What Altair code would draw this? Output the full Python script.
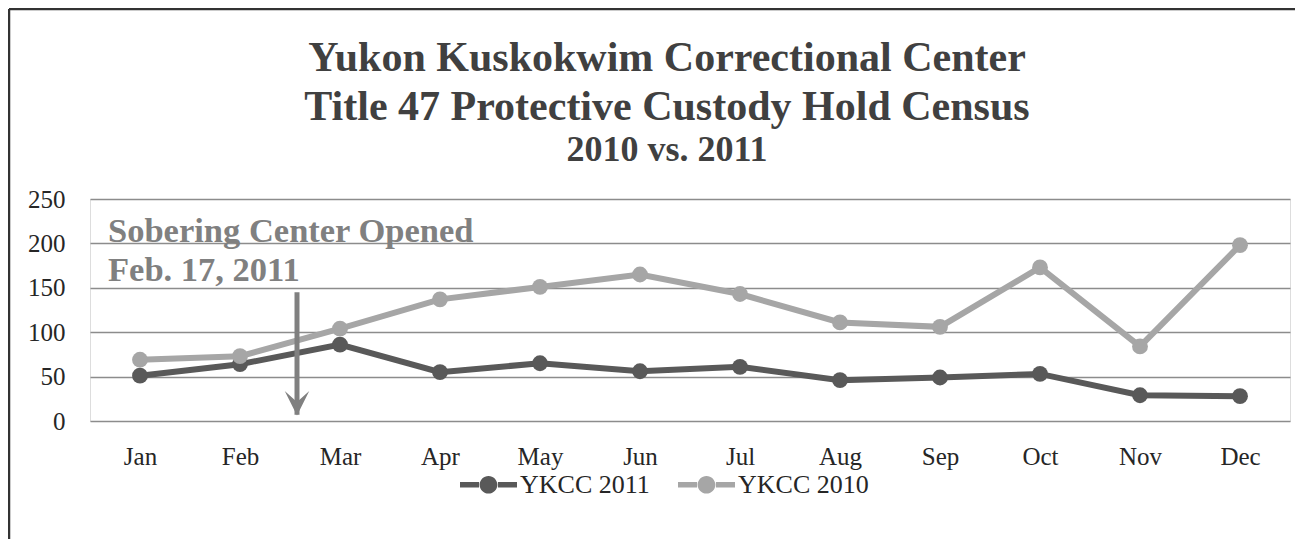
import json
import altair as alt
import pandas as pd

# ---- data ----
months = ["Jan", "Feb", "Mar", "Apr", "May", "Jun", "Jul", "Aug", "Sep", "Oct", "Nov", "Dec"]
ykcc_2011 = [51, 64, 86, 55, 65, 56, 61, 46, 49, 53, 29, 28]
ykcc_2010 = [69, 73, 104, 137, 151, 165, 143, 111, 106, 173, 84, 198]
series_names = ["YKCC 2011", "YKCC 2010"]
series_colors = ["#595959", "#a6a6a6"]
y_ticks = [0, 50, 100, 150, 200, 250]

# annotation (in data units: month index, census value)
note_lines = ["Sobering Center Opened", "Feb. 17, 2011"]
note_x = [0.68, 0.68]
note_y = [202, 158]
arrow_x = [2.57]          # Feb 17
arrow_top = [145]
arrow_bottom = [7]
arrow_head_y = [20]

FONT = "Liberation Serif"

rows = []
for name, vals in zip(series_names, [ykcc_2011, ykcc_2010]):
    for i, v in enumerate(vals):
        rows.append({"m": i + 1, "v": v, "series": name})
df = pd.DataFrame(rows)

note_df = pd.DataFrame({"x": note_x, "y": note_y, "t": note_lines})
arrow_df = pd.DataFrame({"x": arrow_x, "y": arrow_top, "y2": arrow_bottom, "yh": arrow_head_y})

label_expr = json.dumps(months) + "[datum.value - 1]"

x_enc = alt.X(
    "m:Q",
    scale=alt.Scale(domain=[0.5, 12.5], nice=False, zero=False),
    axis=alt.Axis(
        values=list(range(1, 13)), labelExpr=label_expr, grid=False, domain=False,
        ticks=False, title=None, labelFont=FONT, labelFontSize=25, labelColor="#262626",
        labelPadding=23, labelFlush=False,
    ),
)
y_enc = alt.Y(
    "v:Q",
    scale=alt.Scale(domain=[0, 250], nice=False),
    axis=alt.Axis(
        values=y_ticks, grid=True, gridColor="#8c8c8c", gridWidth=1.5, domain=False,
        ticks=False, title=None, labelFont=FONT, labelFontSize=25, labelColor="#262626",
        labelPadding=25,
    ),
)

color_scale = alt.Scale(domain=series_names, range=series_colors)

legend_symbol = (
    "M-1,-0.1 L-0.33,-0.1 L-0.33,0.1 L-1,0.1 Z "
    "M0.33,-0.1 L1,-0.1 L1,0.1 L0.33,0.1 Z "
    "M-0.31,0 A0.31,0.31 0 1,0 0.31,0 A0.31,0.31 0 1,0 -0.31,0 Z"
)

frame_src = pd.DataFrame({"a": [0]})
frame_top = alt.Chart(frame_src).mark_rule(color="#333333", strokeWidth=2.5).encode(
    x=alt.value(-81), x2=alt.value(1210), y=alt.value(-190)
)
frame_left = alt.Chart(frame_src).mark_rule(color="#333333", strokeWidth=2.5).encode(
    x=alt.value(-81), y=alt.value(-190), y2=alt.value(340)
)

line_layers = []
for name, col in zip(series_names, series_colors):
    line_layers.append(
        alt.Chart(df).transform_filter(alt.datum.series == name)
        .mark_line(strokeWidth=6, color=col)
        .encode(x=x_enc, y=y_enc)
    )

points = alt.Chart(df).mark_point(filled=True, size=250, opacity=1).encode(
    x=x_enc, y=y_enc,
    color=alt.Color(
        "series:N", scale=color_scale,
        legend=alt.Legend(
            orient="none", legendX=370, legendY=257, direction="horizontal", title=None,
            labelFont=FONT, labelFontSize=26, labelColor="#262626",
            symbolType=legend_symbol, symbolSize=3249, symbolStrokeWidth=0,
            symbolOpacity=1, columnPadding=28, labelOffset=3,
        ),
    ),
)

notes = alt.Chart(note_df).mark_text(
    align="left", baseline="alphabetic", font=FONT, fontSize=34.5, fontWeight="bold",
    color="#808080",
).encode(x="x:Q", y="y:Q", text="t:N")

arrow_line = alt.Chart(arrow_df).mark_rule(color="#808080", strokeWidth=5).encode(
    x="x:Q", y="y:Q", y2="y2:Q"
)
arrow_head = alt.Chart(arrow_df).mark_point(
    shape="M-1,-1 L0,-0.1 L1,-1 L0,1 Z", filled=True, size=600, opacity=1, color="#808080"
).encode(x="x:Q", y="yh:Q")

chart = alt.layer(
    frame_top, frame_left, *line_layers, points, notes, arrow_line, arrow_head
).properties(
    width=1200,
    height=222,
    autosize=alt.AutoSizeParams(type="none"),
    padding={"left": 82, "top": 191, "right": 5, "bottom": 122},
    title=alt.TitleParams(
        text=["Yukon Kuskokwim Correctional Center", "Title 47 Protective Custody Hold Census"],
        subtitle="2010 vs. 2011",
        font=FONT, fontSize=42, fontWeight="bold", color="#404040", lineHeight=49,
        subtitleFont=FONT, subtitleFontSize=36, subtitleFontWeight="bold",
        subtitleColor="#404040", subtitlePadding=4,
        anchor="middle", frame="group", dx=-23, offset=-161,
    ),
).configure_view(stroke=None).configure_legend(labelFont=FONT).configure(background="white")

chart.save("out.html", embed_options={"renderer": "svg", "actions": False})
